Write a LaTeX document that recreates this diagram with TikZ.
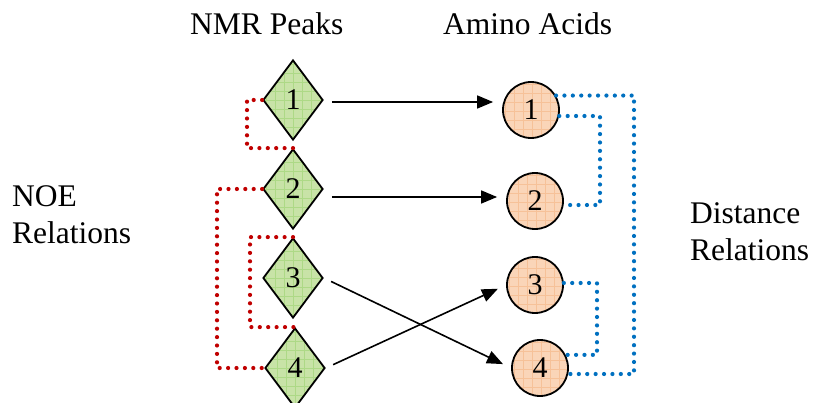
\documentclass[tikz,border=0pt]{standalone}
\usepackage{fontspec}
\setmainfont{Liberation Serif}
\usetikzlibrary{shapes.geometric,arrows.meta,calc}
\definecolor{dfill}{HTML}{C8E3A7}
\definecolor{dgrid}{HTML}{ADD986}
\definecolor{cfill}{HTML}{FAD5B8}
\definecolor{cgrid}{HTML}{F6C198}
\definecolor{noered}{HTML}{C00000}
\definecolor{distblue}{HTML}{0070C0}
\tikzset{
  peak/.style={diamond, draw=black, line width=1.8pt, fill=dfill, aspect=0.75,
    minimum width=60pt, minimum height=80pt, inner sep=0pt,
    font=\fontsize{30}{36}\selectfont,
    path picture={\draw[dgrid, line width=0.5pt] (path picture bounding box.south west) grid[step=9pt] (path picture bounding box.north east);}},
  amino/.style={circle, draw=black, line width=1.8pt, fill=cfill,
    minimum size=56pt, inner sep=0pt,
    font=\fontsize{30}{36}\selectfont,
    path picture={\draw[cgrid, line width=0.5pt] (path picture bounding box.south west) grid[step=9pt] (path picture bounding box.north east);}},
  label/.style={inner sep=0pt, font=\fontsize{31.5}{37}\selectfont},
  conn/.style={line width=1.6pt, -{Triangle[length=16pt,width=13pt]}, shorten <=8pt, shorten >=9pt},
  noe/.style={noered, line width=4.2pt, line cap=round, dash pattern=on 0pt off 8.4pt},
  dist/.style={distblue, line width=4.2pt, line cap=round, dash pattern=on 0pt off 8.4pt}
}
\begin{document}
\begin{tikzpicture}[x=1pt,y=-1pt]
\useasboundingbox (0,0) rectangle (813,403);
% titles
\node[label, anchor=base west] (tnmr) at (190,35) {NMR Peaks};
\node[label, anchor=base west] (tamino) at (443,35) {Amino Acids};
\node[label, anchor=north west, align=left] (tnoe) at (12,185) {NOE\\Relations};
\node[label, anchor=north west, align=left] (tdist) at (690,202.5) {Distance\\Relations};
% peaks
\node[peak] (d1) at (293,100) {1};
\node[peak] (d2) at (293,189) {2};
\node[peak] (d3) at (293,278) {3};
\node[peak] (d4) at (295,368) {4};
% amino acids
\node[amino] (c1) at (531,110) {1};
\node[amino] (c2) at (535,201) {2};
\node[amino] (c3) at (535,285) {3};
\node[amino] (c4) at (540,368) {4};
% assignment arrows
\coordinate (s1) at ([yshift=-2pt]d1.east);
\coordinate (s2) at ([yshift=-8pt]d2.east);
\draw[conn] (s1) -- (s1 -| c1.west);
\draw[conn] (s2) -- (s2 -| c2.west);
\draw[conn] (d3.east) -- (c4.west);
\draw[conn] (d4.east) -- (c3.west);
% NOE relations
\coordinate (xa) at (247,0);
\coordinate (xb) at (217,0);
\coordinate (xc) at (250,0);
\draw[noe] (d1.west) -- (d1.west -| xa) -- (d2.north -| xa) -- (d2.north);
\draw[noe] (d2.west) -- (d2.west -| xb) -- (d4.west -| xb) -- (d4.west);
\draw[noe] (d3.north) -- (d3.north -| xc) -- (d4.north -| xc) -- (d4.north);
% distance relations
\coordinate (xo) at (634,0);
\coordinate (xi) at (600,0);
\coordinate (xj) at (597,0);
\draw[dist] (c1.30) -- (c1.30 -| xo) -- (c4.-12 -| xo) -- (c4.-12);
\draw[dist] (c1.-12) -- (c1.-12 -| xi) -- (c2.-8 -| xi) -- (c2.-8);
\draw[dist] (c3.4) -- (c3.4 -| xj) -- (c4.27 -| xj) -- (c4.27);
\end{tikzpicture}
\end{document}
